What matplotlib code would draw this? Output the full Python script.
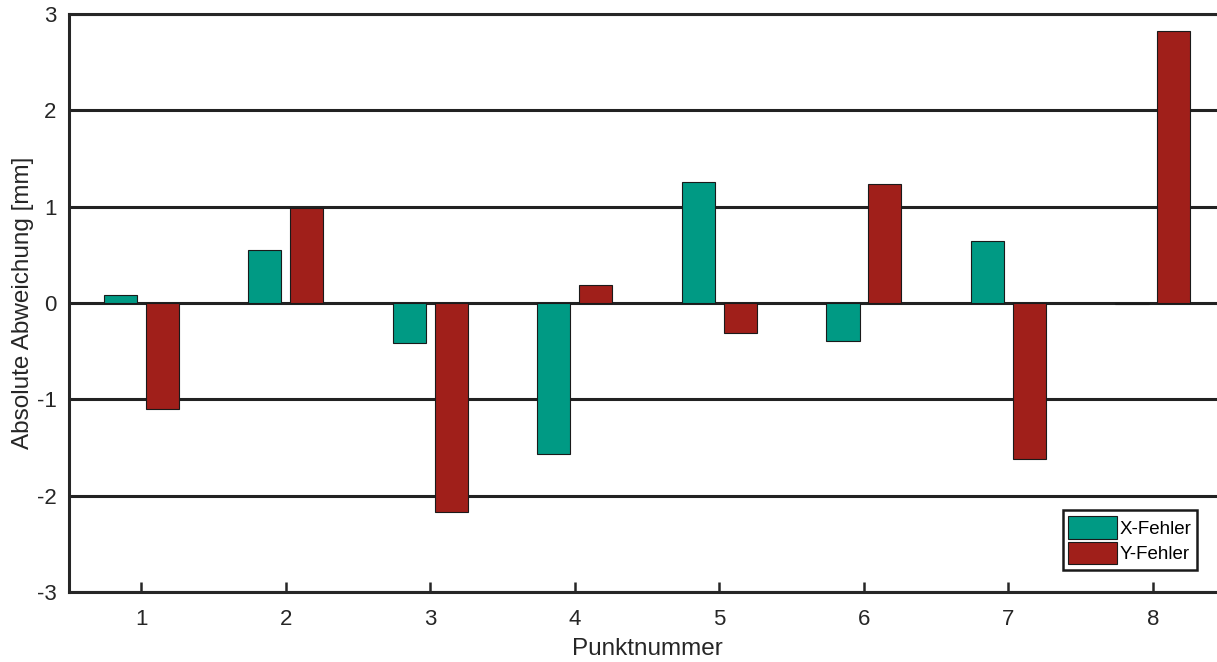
import matplotlib.pyplot as plt
import numpy as np

plt.rcParams['font.family'] = ['Liberation Sans', 'DejaVu Sans']
plt.rcParams['axes.unicode_minus'] = False

# data
punkte = [1, 2, 3, 4, 5, 6, 7, 8]
x_fehler = [0.08, 0.55, -0.41, -1.57, 1.26, -0.39, 0.64, -0.01]
y_fehler = [-1.10, 0.99, -2.17, 0.19, -0.31, 1.24, -1.62, 2.82]

fig = plt.figure(figsize=(12.17, 6.62), dpi=100)
ax = fig.add_axes([0.0567, 0.1057, 0.95, 0.873])

pos = np.array(punkte)
ax.bar(pos - 0.145, x_fehler, width=0.23, color='#009a84', edgecolor='#1a1a1a',
       linewidth=0.8, label='X-Fehler', zorder=3)
ax.bar(pos + 0.145, y_fehler, width=0.23, color='#a01f1a', edgecolor='#1a1a1a',
       linewidth=0.8, label='Y-Fehler', zorder=3)

ax.set_xlim(0.5, 8.5)
ax.set_ylim(-3, 3)
ax.set_xticks(punkte)
ax.set_yticks(range(-3, 4))
ax.yaxis.grid(True, color='#222222', linewidth=2.2, zorder=1)
ax.set_axisbelow(True)
for s in ax.spines.values():
    s.set_linewidth(2.2)
    s.set_color('#262626')
ax.tick_params(axis='x', direction='in', length=7, width=1.8, labelsize=16, pad=12, colors='#262626')
ax.tick_params(axis='y', direction='in', length=0, labelsize=16, pad=9, colors='#262626')
for lbl in ax.get_xticklabels() + ax.get_yticklabels():
    lbl.set_color('#262626')

ax.set_xlabel('Punktnummer', fontsize=17.5, color='#262626', labelpad=6)
ax.set_ylabel('Absolute Abweichung [mm]', fontsize=17.5, color='#262626', labelpad=2)

leg = ax.legend(loc='lower right', bbox_to_anchor=(0.976, 0.038), fontsize=13.5,
                handlelength=2.6, handleheight=1.5, handletextpad=0.15,
                borderpad=0.3, labelspacing=0.15, fancybox=False, framealpha=1,
                borderaxespad=0)
leg.get_frame().set_edgecolor('#1a1a1a')
leg.get_frame().set_linewidth(1.8)

fig.savefig('out.png', dpi=100)
